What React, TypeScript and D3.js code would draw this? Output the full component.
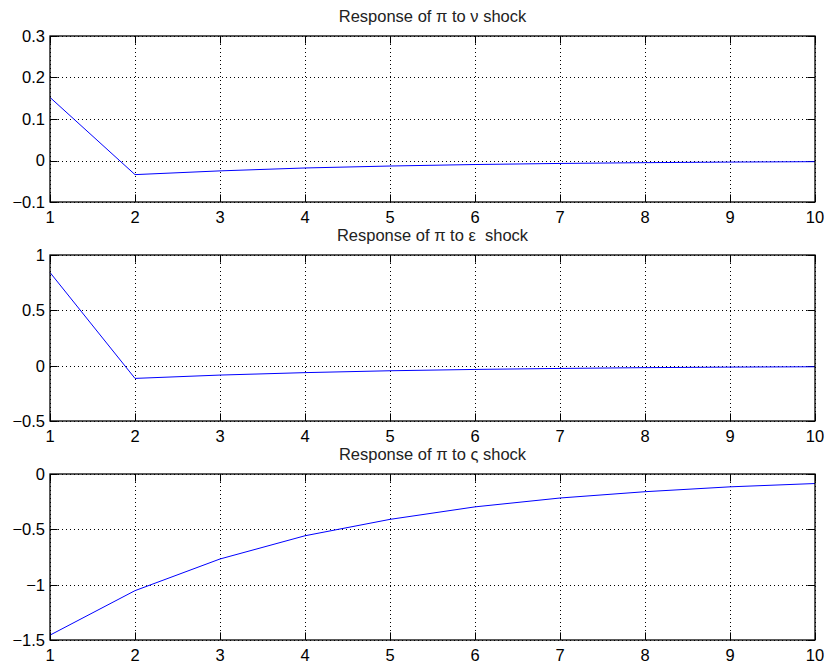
import React from "react";
import * as d3 from "d3";

// horizon steps
const steps = [1, 2, 3, 4, 5, 6, 7, 8, 9, 10];

// responses
const nuShock = [0.152, -0.034, -0.025, -0.018, -0.0133, -0.0097, -0.0071, -0.0052, -0.0038, -0.0028];
const epsShock = [0.842, -0.115, -0.085, -0.063, -0.046, -0.034, -0.025, -0.018, -0.013, -0.01];
const zetaShock = [-1.456, -1.054, -0.768, -0.558, -0.41, -0.297, -0.217, -0.16, -0.116, -0.086];

const titles = ["Response of \u03c0 to \u03bd shock", "Response of \u03c0 to \u03b5  shock", "Response of \u03c0 to \u03c2 shock"];
const yDomains: [number, number][] = [[-0.1, 0.3], [-0.5, 1], [-1.5, 0]];
const yTicks = [[-0.1, 0, 0.1, 0.2, 0.3], [-0.5, 0, 0.5, 1], [-1.5, -1, -0.5, 0]];
const series = [nuShock, epsShock, zetaShock];

const W = 830;
const H = 666;
const left = 50;
const right = 815;
const tops = [36, 255, 474];
const ph = 166;
const tickLen = 7.6;
const fs = 16.5;
const font = "'Liberation Sans', Arial, Helvetica, sans-serif";

const fmt = (v: number) => {
  const s = String(Math.round(v * 10) / 10);
  return s.replace("-", "\u2212");
};

const px = (v: number) => Math.round(v) + 0.5;

function Panel({ idx }: { idx: number }) {
  const top = tops[idx];
  const bottom = top + ph;
  const x = d3.scaleLinear().domain([1, 10]).range([left, right]);
  const y = d3.scaleLinear().domain(yDomains[idx]).range([bottom, top]);
  const data = series[idx];
  const path = d3
    .line<number>()
    .x((_, i) => x(steps[i]))
    .y((d) => y(d))(data);

  return (
    <g>
      <text x={(left + right) / 2} y={top - 14} textAnchor="middle" fontSize={fs} fill="#222" style={{ whiteSpace: "pre" }}>
        {titles[idx]}
      </text>
      {/* grid */}
      {steps.map((s) => (
        <line key={"gx" + s} x1={px(x(s))} x2={px(x(s))} y1={top} y2={bottom} stroke="#000" strokeWidth={1} strokeDasharray="1 3" />
      ))}
      {yTicks[idx].map((t) => (
        <line key={"gy" + t} x1={left} x2={right} y1={px(y(t))} y2={px(y(t))} stroke="#000" strokeWidth={1} strokeDasharray="1 3" />
      ))}
      {/* ticks */}
      {steps.map((s) => (
        <g key={"tx" + s}>
          <line x1={px(x(s))} x2={px(x(s))} y1={bottom} y2={bottom - tickLen} stroke="#000" />
          <line x1={px(x(s))} x2={px(x(s))} y1={top} y2={top + tickLen} stroke="#000" />
          <text x={x(s)} y={bottom + 21} textAnchor="middle" fontSize={fs} fill="#000">
            {s}
          </text>
        </g>
      ))}
      {yTicks[idx].map((t) => (
        <g key={"ty" + t}>
          <line x1={left} x2={left + tickLen} y1={px(y(t))} y2={px(y(t))} stroke="#000" />
          <line x1={right} x2={right - tickLen} y1={px(y(t))} y2={px(y(t))} stroke="#000" />
          <text x={left - 5} y={y(t)} dy="0.36em" textAnchor="end" fontSize={fs} fill="#000">
            {fmt(t)}
          </text>
        </g>
      ))}
      <path d={path || ""} fill="none" stroke="#0000ff" strokeWidth={1} />
      <rect x={left} y={top} width={right - left} height={ph} fill="none" stroke="#000" strokeWidth={1.3} />
    </g>
  );
}

export default function App() {
  return (
    <svg width={W} height={H} style={{ position: "absolute", left: 0, top: 0, background: "#fff", fontFamily: font }}>
      <rect width={W} height={H} fill="#fff" />
      {[0, 1, 2].map((i) => (
        <Panel key={i} idx={i} />
      ))}
    </svg>
  );
}
